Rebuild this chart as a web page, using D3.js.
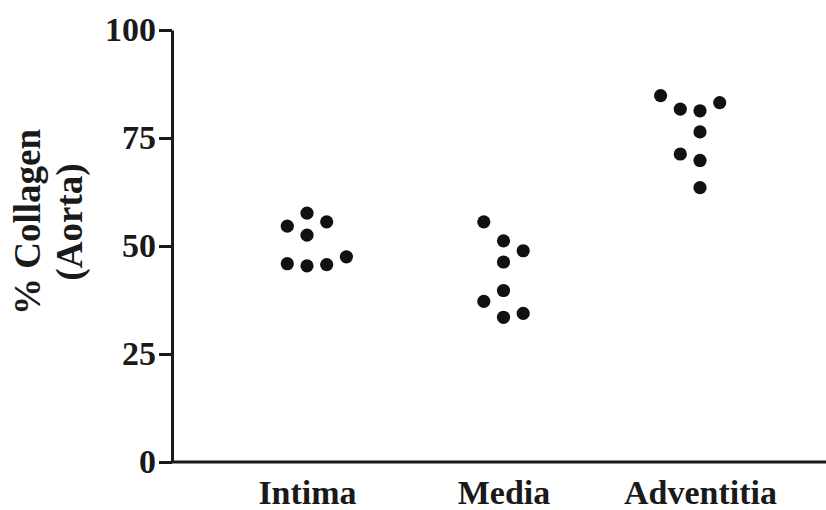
<!DOCTYPE html>
<html>
<head>
<meta charset="utf-8">
<script src="https://cdn.jsdelivr.net/npm/d3@7"></script>
<style>
  html, body { margin: 0; padding: 0; background: #fff; }
  svg { display: block; }
  text { font-family: "Liberation Serif", "Times New Roman", serif; font-weight: bold; fill: #1a1a1a; }
</style>
</head>
<body>
<svg id="chart" width="826" height="510"></svg>
<script>
const categories = ["Intima", "Media", "Adventitia"];
const intimaValues = [54.6, 57.6, 55.6, 52.5, 45.9, 45.4, 45.7, 47.5];
const intimaSlots  = [-1, 0, 1, 0, -1, 0, 1, 2];
const mediaValues  = [55.6, 51.2, 48.9, 46.3, 39.7, 37.2, 33.5, 34.4];
const mediaSlots   = [-1, 0, 1, 0, 0, -1, 0, 1];
const adventitiaValues = [84.8, 81.7, 81.3, 83.2, 76.4, 71.3, 69.8, 63.5];
const adventitiaSlots  = [-2, -1, 0, 1, 0, -1, 0, 0];
const yTicks = [0, 25, 50, 75, 100];
const yLabelLines = ["% Collagen", "(Aorta)"];

const groups = [
  { cat: "Intima", values: intimaValues, slots: intimaSlots },
  { cat: "Media", values: mediaValues, slots: mediaSlots },
  { cat: "Adventitia", values: adventitiaValues, slots: adventitiaSlots }
];
const points = groups.flatMap(g => g.values.map((v, i) => ({ cat: g.cat, v, slot: g.slots[i] })));

const svg = d3.select("#chart");
const axisX = 172, axisY = 462, topY = 30, rightX = 826;

const x = d3.scalePoint().domain(categories).range([307, 700]);
const slot = d3.scaleLinear().domain([0, 1]).range([0, 19.7]);
const y = d3.scaleLinear().domain([0, 100]).range([axisY, topY]);

// Y axis
const yAxis = d3.axisLeft(y).tickValues(yTicks).tickSize(13).tickPadding(3).tickSizeOuter(0);
const gy = svg.append("g").attr("transform", `translate(${axisX},0)`).call(yAxis);
gy.select(".domain").attr("stroke", "#1a1a1a").attr("stroke-width", 3);
gy.selectAll(".tick line").attr("stroke", "#1a1a1a").attr("stroke-width", 3);
gy.selectAll(".tick text").style("font-size", "34px").attr("fill", "#1a1a1a");

// X axis
const xAxis = d3.axisBottom(x).tickSize(0).tickPadding(18);
const gx = svg.append("g").attr("transform", `translate(0,${axisY})`).call(xAxis);
gx.select(".domain").attr("d", `M${axisX},0H${rightX}`).attr("stroke", "#1a1a1a").attr("stroke-width", 3);
gx.selectAll(".tick text").style("font-size", "34px").attr("fill", "#1a1a1a");

// Y label
const yl = svg.append("text")
  .attr("transform", `translate(0,222) rotate(-90)`)
  .attr("text-anchor", "middle")
  .style("font-size", "37px");
yl.selectAll("tspan").data(yLabelLines).join("tspan")
  .attr("x", 0)
  .attr("y", (d, i) => 40 + i * 42)
  .text(d => d);

// Points
svg.append("g").selectAll("circle").data(points).join("circle")
  .attr("cx", d => x(d.cat) + slot(d.slot))
  .attr("cy", d => y(d.v))
  .attr("r", 6.6)
  .attr("fill", "#111");
</script>
</body>
</html>
